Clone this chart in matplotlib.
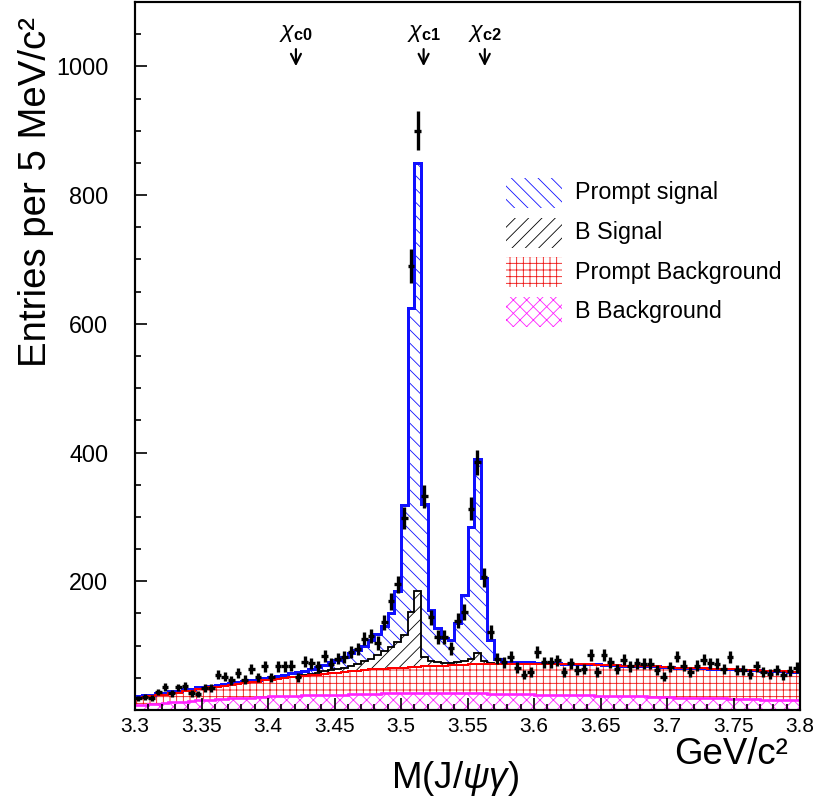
import numpy as np
import matplotlib
matplotlib.use("Agg")
import matplotlib.pyplot as plt
from matplotlib.patches import Rectangle
from matplotlib.ticker import MultipleLocator

plt.rcParams['font.family'] = ['Liberation Sans', 'DejaVu Sans']
plt.rcParams['mathtext.fontset'] = 'custom'
plt.rcParams['mathtext.rm'] = 'Liberation Sans'
plt.rcParams['mathtext.it'] = 'Liberation Sans:italic'
plt.rcParams['mathtext.bf'] = 'Liberation Sans:bold'
plt.rcParams['hatch.linewidth'] = 0.5

# 100 bins of 5 MeV between 3.3 and 3.8 GeV
x_lo, bin_w, n_bins = 3.3, 0.005, 100
edges = x_lo + bin_w * np.arange(n_bins + 1)
centers = edges[:-1] + bin_w / 2

# data points (entries per bin)
data = [18, 20, 19, 28, 36, 26, 35, 37, 26, 25,
        34, 34, 55, 52, 46, 58, 47, 64, 51, 68,
        51, 68, 68, 69, 51, 75, 73, 68, 84, 72,
        80, 82, 90, 95, 111, 115, 104, 136, 169, 195,
        298, 690, 900, 332, 144, 113, 113, 96, 139, 152,
        313, 385, 206, 121, 80, 74, 83, 66, 55, 59,
        90, 74, 74, 77, 59, 73, 62, 64, 85, 59,
        86, 74, 64, 78, 68, 73, 72, 72, 62, 52,
        67, 83, 69, 59, 69, 78, 73, 72, 64, 82,
        62, 62, 56, 68, 59, 56, 62, 54, 60, 66]

# stacked levels (top of each layer)
bkg_b_top = [7, 8, 9, 10, 11, 12, 13, 13, 14, 15,
             15, 16, 17, 17, 18, 18, 19, 19, 20, 20,
             21, 21, 22, 22, 22, 23, 23, 23, 24, 24,
             24, 24, 25, 25, 25, 25, 25, 26, 26, 26,
             26, 26, 26, 26, 26, 26, 26, 26, 26, 26,
             26, 26, 26, 25, 25, 25, 25, 25, 25, 25,
             24, 24, 24, 24, 24, 23, 23, 23, 23, 22,
             22, 22, 22, 21, 21, 21, 21, 20, 20, 20,
             20, 19, 19, 19, 19, 18, 18, 18, 18, 17,
             17, 17, 17, 17, 16, 16, 16, 16, 15, 15]

bkg_top = [18, 20, 21, 23, 24, 26, 27, 29, 30, 32,
           33, 35, 36, 38, 39, 40, 42, 43, 44, 46,
           47, 48, 49, 51, 52, 53, 54, 55, 56, 57,
           58, 59, 60, 61, 62, 63, 64, 64, 65, 66,
           66, 67, 67, 68, 68, 69, 69, 70, 70, 70,
           71, 71, 71, 71, 72, 72, 72, 72, 72, 72,
           72, 72, 72, 72, 71, 71, 71, 71, 71, 70,
           70, 70, 70, 69, 69, 69, 68, 68, 68, 67,
           67, 66, 66, 66, 65, 65, 64, 64, 64, 63,
           63, 62, 62, 62, 61, 61, 60, 60, 59, 59]

bsig_top = [18, 20, 21, 23, 24, 26, 27, 29, 30, 32,
            33, 35, 36, 38, 39, 40, 42, 43, 44, 46,
            47, 48, 49, 51, 52, 54, 56, 58, 60, 62,
            64, 66, 69, 72, 76, 80, 85, 92, 98, 105,
            116, 152, 185, 82, 76, 74, 73, 73, 74, 76,
            80, 88, 76, 73, 72, 72, 72, 72, 72, 72,
            72, 72, 72, 72, 71, 71, 71, 71, 71, 70,
            70, 70, 70, 69, 69, 69, 68, 68, 68, 67,
            67, 66, 66, 66, 65, 65, 64, 64, 64, 63,
            63, 62, 62, 62, 61, 61, 60, 60, 59, 59]

total_top = [21, 23, 24, 26, 27, 29, 30, 32, 33, 35,
             36, 38, 39, 41, 42, 43, 45, 46, 47, 49,
             51, 53, 55, 57, 59, 61, 64, 67, 70, 74,
             78, 82, 88, 93, 100, 108, 118, 130, 150, 185,
             318, 625, 850, 320, 155, 128, 112, 108, 135, 178,
             284, 390, 205, 108, 80, 74, 74, 74, 74, 74,
             73, 73, 73, 73, 72, 72, 72, 72, 72, 71,
             70, 70, 70, 69, 69, 69, 68, 68, 68, 67,
             67, 66, 66, 66, 65, 65, 64, 64, 64, 63,
             63, 62, 62, 62, 61, 61, 60, 60, 59, 59]

labels = ['Prompt signal', 'B Signal', 'Prompt Background', 'B Background']
colors = ['#1010ff', 'black', '#ee1111', '#ff22ff']
hatches = ['\\\\\\', '///', '+++', 'xxx']

xtick_vals = [3.3, 3.35, 3.4, 3.45, 3.5, 3.55, 3.6, 3.65, 3.7, 3.75, 3.8]
xtick_labels = ['3.3', '3.35', '3.4', '3.45', '3.5', '3.55', '3.6', '3.65', '3.7', '3.75', '3.8']
ytick_vals = [200, 400, 600, 800, 1000]

chi_names = [r'$\chi_{\mathbf{c0}}$', r'$\chi_{\mathbf{c1}}$', r'$\chi_{\mathbf{c2}}$']
chi_pos = [3.421, 3.517, 3.563]

fig = plt.figure(figsize=(820 / 120, 800 / 120), dpi=120)
ax = fig.add_axes([135 / 820, 90 / 800, 665 / 820, 708 / 800])

zeros = np.zeros(n_bins)
layers = [
    (zeros, bkg_b_top, 3),
    (bkg_b_top, bkg_top, 2),
    (bkg_top, bsig_top, 1),
    (bsig_top, total_top, 0),
]
for low, high, k in layers:
    ax.stairs(high, edges, baseline=low, fill=True, facecolor='white',
              edgecolor=colors[k], hatch=hatches[k], linewidth=0)

# outlines
ax.stairs(total_top, edges, baseline=None, color=colors[0], linewidth=1.8)
ax.stairs(bsig_top, edges, baseline=None, color='black', linewidth=1.1)
ax.stairs(bkg_top, edges, baseline=None, color='red', linewidth=1.2)
ax.stairs(bkg_b_top, edges, baseline=None, color=colors[3], linewidth=1.6)
ax.plot([edges[-1], edges[-1]], [0, bkg_top[-1]], color='#b00000', linewidth=1.5)

# data
data = np.array(data)
ax.errorbar(centers, data, yerr=np.sqrt(data), xerr=bin_w / 2, fmt='none',
            ecolor='black', elinewidth=2.0, capsize=0, zorder=5)

# chi_c markers
for name, xp in zip(chi_names, chi_pos):
    ax.text(xp, 1053, name, ha='center', va='center', fontsize=14)
    ax.annotate('', xy=(xp, 995), xytext=(xp, 1032),
                arrowprops=dict(arrowstyle='->', lw=1.3, color='black',
                                mutation_scale=15))

# legend drawn by hand
def px_to_ax(px, py):
    return (px - 135) / 665, (708 - py) / 708

for i, lab in enumerate(labels):
    yc = 191 + 39.5 * i
    x0, y0 = px_to_ax(506, yc + 15)
    ax.add_patch(Rectangle((x0, y0), 56 / 665, 30 / 708, transform=ax.transAxes,
                           facecolor='white', edgecolor=colors[i],
                           hatch=hatches[i], linewidth=0))
    tx, ty = px_to_ax(575, yc)
    ax.text(tx, ty, lab, transform=ax.transAxes, ha='left', va='center', fontsize=14)

ax.set_xlim(3.3, 3.8)
ax.set_ylim(0, 1100)
ax.set_xticks(xtick_vals)
ax.set_xticklabels(xtick_labels)
ax.set_yticks(ytick_vals)
ax.xaxis.set_minor_locator(MultipleLocator(0.01))
ax.yaxis.set_minor_locator(MultipleLocator(50))
ax.tick_params(which='both', direction='in', top=False, right=False, width=1.0)
ax.tick_params(which='major', length=7)
ax.tick_params(which='minor', length=3.5)
ax.tick_params(axis='x', labelsize=12.5, pad=4)
ax.tick_params(axis='y', labelsize=14, pad=16)
for s in ax.spines.values():
    s.set_linewidth(1.3)

fig.text(36 / 820, 1 - 192 / 800, 'Entries per 5 MeV/c²', rotation=90,
         ha='center', va='center', fontsize=23)
fig.text(455 / 820, 1 - 778 / 800, r'M(J/$\psi\gamma$)', ha='center',
         va='center', fontsize=22)
fig.text(731 / 820, 1 - 755 / 800, 'GeV/c²', ha='center', va='center', fontsize=22)

fig.savefig('out.png', dpi=120)
